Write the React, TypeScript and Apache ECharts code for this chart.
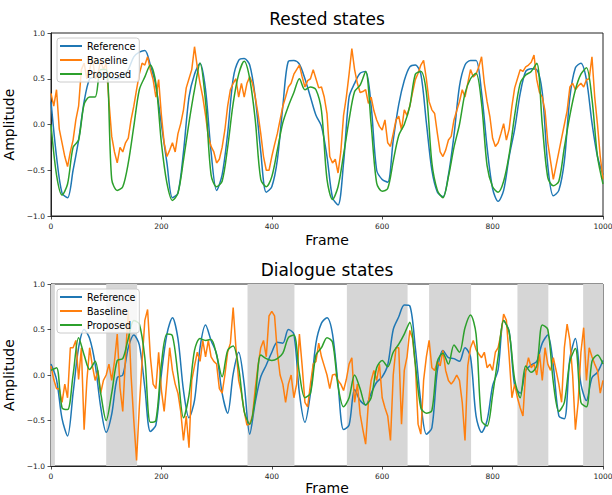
import React, { useEffect, useRef } from "react";
import * as echarts from "echarts";

// ---------- data ----------
// Step between samples, in frames
const SMOOTH_STEP = 10;
const NOISY_STEP = 5;

// Rested states
const restedReference = [
  0.25, -0.35, -0.75, -0.8, -0.5, -0.17, 0.25, 0.5, 0.52, 0.55,
  0.55, 0.5, 0.5, 0.52, 0.6, 0.74, 0.79, 0.81, 0.65, 0.42,
  0.0, -0.42, -0.8, -0.75, -0.3, 0.3, 0.55, 0.67, 0.38, -0.3,
  -0.72, -0.55, -0.1, 0.5, 0.7, 0.72, 0.65, 0.3, -0.3, -0.74,
  -0.68, -0.39, 0.2, 0.69, 0.7, 0.66, 0.5, 0.3, 0.1, -0.02,
  -0.35, -0.8, -0.88, -0.42, 0.3, 0.45, 0.56, 0.58, 0.2, -0.5,
  -0.6, -0.63, -0.17, 0.22, 0.48, 0.63, 0.65, 0.55, 0.02, -0.5,
  -0.74, -0.79, -0.55, -0.12, 0.42, 0.65, 0.7, 0.7, 0.35, -0.25,
  -0.7, -0.84, -0.72, -0.35, -0.05, 0.34, 0.58, 0.61, 0.6, 0.35,
  -0.45, -0.78, -0.72, -0.4, 0.3, 0.62, 0.67, 0.49, 0.02, -0.35,
  -0.55,
];

const restedBaseline = [
  0.34, 0.2, 0.38, -0.05, -0.2, -0.35, -0.46, -0.3, -0.17, 0.05, 0.2, 0.6, 0.67, 0.5, 0.6, 0.74, 0.5, 0.55, 0.7, 0.6,
  0.67, 0.25, -0.13, -0.3, -0.42, -0.25, -0.3, -0.2, -0.15, 0.05, 0.2, 0.38, 0.55, 0.67, 0.65, 0.74, 0.6, 0.49, 0.3, 0.49,
  0.1, -0.2, -0.35, -0.28, -0.2, -0.3, -0.1, 0.01, 0.16, 0.4, 0.5, 0.6, 0.85, 0.63, 0.45, 0.3, 0.1, -0.13, -0.24, -0.3,
  -0.42, -0.38, -0.25, -0.06, 0.2, 0.38, 0.45, 0.5, 0.3, 0.45, 0.3, 0.45, 0.52, 0.45, 0.3, 0.12, -0.1, -0.35, -0.5, -0.5,
  -0.35, -0.22, -0.1, 0.05, 0.2, 0.3, 0.41, 0.45, 0.55, 0.6, 0.65, 0.52, 0.41, 0.48, 0.5, 0.6, 0.5, 0.4, 0.41, 0.3,
  0.12, -0.35, -0.42, -0.38, -0.53, -0.3, 0.1, 0.3, 0.55, 0.83, 0.6, 0.45, 0.35, 0.36, 0.38, 0.23, 0.3, 0.15, 0.05, -0.02,
  -0.06, 0.05, -0.2, -0.24, -0.1, 0.05, 0.09, -0.06, 0.16, 0.1, 0.2, 0.35, 0.49, 0.56, 0.65, 0.7, 0.5, 0.25, 0.16, 0.12,
  -0.1, -0.3, -0.35, -0.28, -0.17, -0.13, 0.05, 0.15, 0.25, 0.38, 0.3, 0.45, 0.6, 0.52, 0.55, 0.63, 0.74, 0.45, 0.25, 0.09,
  -0.15, -0.24, -0.2, -0.1, 0.01, -0.17, -0.05, 0.2, 0.4, 0.5, 0.6, 0.58, 0.63, 0.65, 0.68, 0.76, 0.49, 0.35, 0.3, 0.15,
  -0.2, -0.4, -0.6, -0.45, -0.3, -0.15, 0.0, 0.15, 0.41, 0.45, 0.38, 0.42, 0.45, 0.41, 0.49, 0.5, 0.74, 0.3, 0.0, -0.35,
  -0.6,
];

const restedProposed = [
  0.0, -0.55, -0.77, -0.65, -0.25, -0.17, 0.22, 0.3, 0.3, 0.6,
  0.6, -0.6, -0.72, -0.68, -0.42, -0.02, 0.38, 0.52, 0.65, 0.45,
  -0.2, -0.64, -0.83, -0.75, -0.39, 0.02, 0.38, 0.67, 0.25, -0.55,
  -0.68, -0.62, -0.25, 0.23, 0.55, 0.69, 0.5, 0.05, -0.6, -0.68,
  -0.57, -0.28, 0.02, 0.2, 0.35, 0.5, 0.38, 0.41, 0.38, 0.15,
  -0.6, -0.82, -0.68, -0.33, 0.05, 0.36, 0.43, 0.58, 0.0, -0.64,
  -0.73, -0.7, -0.4, -0.12, 0.0, 0.2, 0.55, 0.58, 0.35, -0.42,
  -0.72, -0.8, -0.57, -0.25, 0.0, 0.34, 0.5, 0.56, 0.23, -0.45,
  -0.68, -0.74, -0.62, -0.33, 0.1, 0.45, 0.54, 0.58, 0.67, 0.0,
  -0.58, -0.67, -0.62, -0.25, 0.1, 0.38, 0.55, 0.62, 0.28, -0.35,
  -0.65,
];

// Dialogue states
const dialogueReference = [
  0.12, -0.05, -0.48, -0.67, -0.2, 0.3, 0.5, 0.4, 0.12, -0.35,
  -0.63, -0.43, -0.03, 0.0, 0.3, 0.44, 0.33, -0.14, -0.62, -0.55,
  0.01, 0.45, 0.63, 0.4, -0.17, -0.47, -0.28, 0.3, 0.55, 0.38,
  0.23, -0.2, -0.42, 0.01, 0.25, -0.1, -0.65, -0.3, -0.02, 0.11,
  0.25, 0.36, 0.35, 0.5, 0.45, -0.2, -0.52, -0.2, 0.35, 0.57,
  0.63, 0.45, -0.1, -0.6, -0.55, -0.16, -0.28, -0.33, -0.2, -0.08,
  -0.02, 0.11, 0.5, 0.64, 0.77, 0.76, 0.3, -0.3, -0.65, -0.58,
  0.05, 0.27, 0.19, 0.18, 0.15, 0.3, 0.2, -0.45, -0.63, -0.5,
  -0.12, 0.06, 0.6, 0.48, -0.12, -0.2, 0.05, 0.11, 0.15, 0.35,
  0.44, 0.1, -0.45, -0.48, 0.18, 0.4, -0.1, -0.28, -0.03, 0.03,
  0.16,
];

const dialogueBaseline = [
  0.1, -0.05, -0.15, -0.15, -0.3, -0.1, -0.25, 0.3, 0.3, 0.38, -0.05, 0.3, -0.6, -0.06, 0.3, 0.1, -0.06, 0.05, -0.2, -0.06,
  0.0, 0.12, -0.06, 0.15, 0.45, -0.14, -0.4, 0.2, 0.71, 0.0, -0.5, -0.94, -0.35, 0.15, 0.6, 0.72, 0.2, -0.1, -0.15, 0.25,
  -0.17, -0.4, -0.06, 0.3, 0.05, -0.1, -0.2, -0.4, -0.72, -0.45, -0.8, -0.06, 0.1, 0.25, 0.15, 0.38, 0.2, 0.38, 0.2, 0.15,
  0.12, -0.15, -0.2, 0.0, 0.25, 0.35, 0.74, 0.3, -0.06, -0.2, -0.4, -0.55, -0.54, -0.45, -0.15, 0.1, 0.3, 0.38, 0.2, 0.65,
  0.7, 0.65, 0.25, 0.0, -0.1, -0.3, -0.1, 0.0, -0.25, -0.1, 0.45, 0.1, -0.3, -0.35, -0.1, 0.12, 0.15, 0.35, 0.2, 0.1,
  0.0, -0.15, 0.0, 0.01, -0.06, -0.1, -0.17, -0.05, 0.12, 0.19, -0.3, -0.1, -0.43, -0.6, -0.76, -0.3, -0.06, 0.05, -0.06, 0.12,
  -0.25, -0.36, -0.45, -0.72, 0.0, 0.3, 0.3, -0.54, 0.05, 0.2, 0.49, 0.4, 0.12, -0.54, -0.65, -0.06, 0.2, 0.38, 0.08, 0.05,
  0.15, 0.1, 0.27, 0.05, -0.06, -0.1, -0.06, 0.0, -0.06, -0.3, -0.72, 0.1, 0.3, 0.38, 0.28, 0.23, 0.19, 0.25, 0.08, 0.12,
  0.05, 0.25, 0.3, 0.45, 0.67, 0.6, 0.2, -0.25, -0.1, -0.25, -0.36, -0.45, 0.05, 0.19, 0.08, 0.12, 0.0, 0.23, -0.06, 0.3,
  0.12, 0.05, 0.19, 0.05, -0.1, -0.3, 0.3, 0.56, 0.38, 0.0, -0.6, -0.3, 0.25, 0.52, -0.06, 0.3, 0.2, 0.12, 0.05, -0.2,
  -0.06,
];

const dialogueProposed = [
  0.05, 0.08, -0.36, -0.38, 0.0, 0.41, 0.22, 0.06, 0.15, -0.2,
  -0.5, -0.2, 0.16, 0.18, 0.4, 0.6, 0.56, 0.19, -0.52, -0.5,
  0.12, 0.45, 0.43, 0.0, -0.47, -0.22, 0.27, 0.4, 0.38, 0.39,
  0.22, -0.02, 0.27, 0.32, 0.08, -0.4, -0.54, -0.25, 0.22, 0.18,
  0.16, 0.18, 0.24, 0.41, 0.44, 0.02, -0.25, -0.2, 0.22, 0.3,
  0.41, 0.36, -0.12, -0.35, -0.25, 0.0, -0.15, -0.33, -0.25, 0.08,
  0.16, 0.09, 0.25, 0.34, 0.45, 0.58, 0.12, -0.36, -0.42, -0.39,
  0.15, 0.24, 0.12, 0.33, 0.25, 0.52, 0.66, 0.45, -0.5, -0.56,
  -0.22, 0.2, 0.6, 0.47, -0.05, -0.25, 0.1, 0.03, 0.1, 0.55,
  0.5, -0.08, -0.4, -0.3, 0.15, 0.29, -0.3, -0.35, 0.15, 0.22,
  0.12,
];

// Shaded (dialogue) intervals, frames
const shadeStarts = [0, 100, 356, 536, 685, 845, 964];
const shadeEnds = [7, 156, 441, 646, 761, 901, 1000];

const seriesNames = ["Reference", "Baseline", "Proposed"];
const titles = ["Rested states", "Dialogue states"];
const xTicks = [0, 200, 400, 600, 800, 1000];
const yTicks = [-1.0, -0.5, 0.0, 0.5, 1.0];

// ---------- styling ----------
const COLORS = ["#1f77b4", "#ff7f0e", "#2ca02c"];
const FONT = "DejaVu Sans";
const W = 612;
const H = 495;
const PLOT_LEFT = 51;
const PLOT_RIGHT = 603;
const GRIDS = [
  { top: 33, height: 183, xNameGap: 17 },
  { top: 284, height: 182, xNameGap: 14 },
];

const toPairs = (vals: number[], step: number) => vals.map((v, i) => [i * step, v]);

const fmtY = (v: number) => (v < 0 ? "\u2212" : "") + Math.abs(v).toFixed(1);
const fmtX = (v: number) => String(Math.round(v));

export default function App() {
  const ref = useRef<HTMLDivElement>(null);

  useEffect(() => {
    if (!ref.current) return;
    const chart = echarts.init(ref.current, undefined, { renderer: "svg" });

    const grid = GRIDS.map((g) => ({
      left: PLOT_LEFT,
      right: W - PLOT_RIGHT,
      top: g.top,
      height: g.height,
      show: true,
      borderColor: "#222",
      borderWidth: 1,
      backgroundColor: "transparent",
      containLabel: false,
      outerBoundsMode: "none",
    }));

    const xAxis = GRIDS.map((g, i) => ({
      type: "value",
      gridIndex: i,
      min: xTicks[0],
      max: xTicks[xTicks.length - 1],
      interval: xTicks[1] - xTicks[0],
      name: "Frame",
      nameLocation: "middle",
      nameGap: g.xNameGap,
      nameTextStyle: { fontFamily: FONT, fontSize: 14, color: "#000" },
      axisLine: { show: true, onZero: false, lineStyle: { color: "#222", width: 1 } },
      axisTick: { show: true, length: 3.5, lineStyle: { color: "#222", width: 0.8 } },
      axisLabel: { fontFamily: FONT, fontSize: 7.5, color: "#222", margin: 6, formatter: fmtX },
      splitLine: { show: false },
    }));

    const yAxis = GRIDS.map((_, i) => ({
      type: "value",
      gridIndex: i,
      min: yTicks[0],
      max: yTicks[yTicks.length - 1],
      interval: yTicks[1] - yTicks[0],
      name: "Amplitude",
      nameLocation: "middle",
      nameGap: 27,
      nameTextStyle: { fontFamily: FONT, fontSize: 14, color: "#000" },
      axisLine: { show: true, onZero: false, lineStyle: { color: "#222", width: 1 } },
      axisTick: { show: true, length: 3.5, lineStyle: { color: "#222", width: 0.8 } },
      axisLabel: { fontFamily: FONT, fontSize: 7.5, color: "#222", margin: 6, formatter: fmtY },
      splitLine: { show: false },
    }));

    const mk = (name: string, vals: number[], step: number, color: string, idx: number, extra: any = {}) => ({
      type: "line",
      name,
      xAxisIndex: idx,
      yAxisIndex: idx,
      data: toPairs(vals, step),
      showSymbol: false,
      symbol: "none",
      lineStyle: { width: 1.5, color },
      itemStyle: { color },
      emphasis: { disabled: true },
      ...extra,
    });

    const markArea = {
      silent: true,
      itemStyle: { color: "#d6d6d6" },
      data: shadeStarts.map((s, i) => [{ xAxis: s }, { xAxis: shadeEnds[i] }]),
    };

    const smoothOpt = { smooth: 0.3 };

    const series = [
      mk(seriesNames[0], restedReference, SMOOTH_STEP, COLORS[0], 0, smoothOpt),
      mk(seriesNames[1], restedBaseline, NOISY_STEP, COLORS[1], 0),
      mk(seriesNames[2], restedProposed, SMOOTH_STEP, COLORS[2], 0, smoothOpt),
      mk(seriesNames[0], dialogueReference, SMOOTH_STEP, COLORS[0], 1, { ...smoothOpt, markArea }),
      mk(seriesNames[1], dialogueBaseline, NOISY_STEP, COLORS[1], 1),
      mk(seriesNames[2], dialogueProposed, SMOOTH_STEP, COLORS[2], 1, smoothOpt),
    ];

    const legend = GRIDS.map((g) => ({
      data: seriesNames,
      orient: "vertical",
      left: 57,
      top: g.top + 5,
      icon: "rect",
      itemWidth: 22,
      itemHeight: 2,
      itemGap: 0,
      padding: [1, 4, 1, 3],
      backgroundColor: "rgba(255,255,255,0.8)",
      borderColor: "#cccccc",
      borderWidth: 1,
      borderRadius: 3,
      selectedMode: false,
      textStyle: { fontFamily: FONT, fontSize: 9.6, color: "#000", lineHeight: 14 },
    }));

    const center = (PLOT_LEFT + PLOT_RIGHT) / 2;
    const graphic = titles.map((t, i) => ({
      type: "text",
      x: center,
      y: GRIDS[i].top - 14,
      silent: true,
      style: {
        text: t,
        fontFamily: FONT,
        fontSize: 17,
        fill: "#000",
        align: "center",
        verticalAlign: "middle",
      },
    }));

    chart.setOption({
      animation: false,
      backgroundColor: "#fff",
      grid,
      xAxis,
      yAxis,
      legend,
      series,
      graphic,
    });

    return () => chart.dispose();
  }, []);

  return (
    <div
      ref={ref}
      style={{ position: "absolute", left: 0, top: 0, width: W, height: H }}
    />
  );
}
